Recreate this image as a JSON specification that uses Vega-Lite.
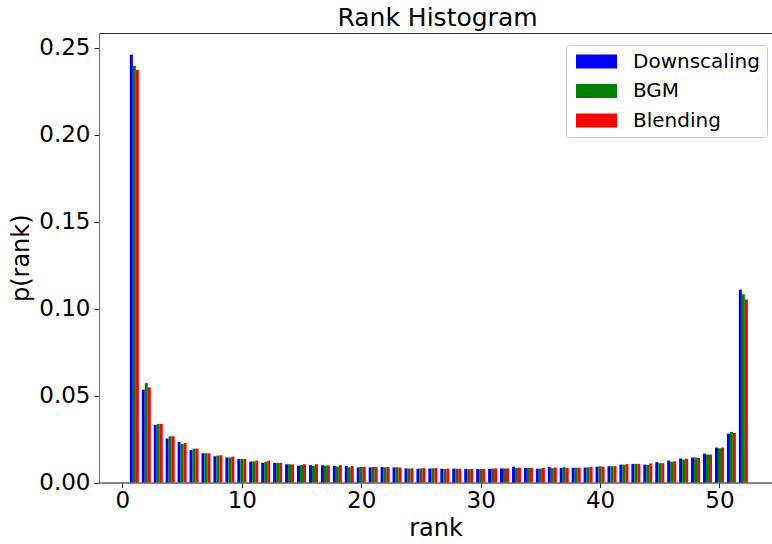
{
  "$schema": "https://vega.github.io/schema/vega-lite/v6.json",
  "width": 673,
  "height": 449.5,
  "autosize": {"type": "none"},
  "padding": {"left": 99, "top": 33, "right": 0, "bottom": 61.5},
  "background": "white",
  "config": {
    "font": "DejaVu Sans",
    "view": {"stroke": "#333", "strokeWidth": 1},
    "axis": {"grid": false, "domainColor": "#777", "tickColor": "#222", "tickSize": 5, "labelColor": "#000", "titleColor": "#000", "labelFontSize": 23, "titleFontSize": 24, "titleFontWeight": "normal", "labelFont": "DejaVu Sans", "titleFont": "DejaVu Sans"}
  },
  "title": {"text": "Rank Histogram", "fontSize": 25, "fontWeight": "normal", "color": "#000", "font": "DejaVu Sans", "anchor": "middle", "offset": 2, "dx": 2},
  "data": {"values": [
    {"rank":1,"series":"Downscaling","p":0.2460},{"rank":1,"series":"BGM","p":0.2397},{"rank":1,"series":"Blending","p":0.2372},
    {"rank":2,"series":"Downscaling","p":0.0534},{"rank":2,"series":"BGM","p":0.0572},{"rank":2,"series":"Blending","p":0.0547},
    {"rank":3,"series":"Downscaling","p":0.0331},{"rank":3,"series":"BGM","p":0.0337},{"rank":3,"series":"Blending","p":0.0337},
    {"rank":4,"series":"Downscaling","p":0.0253},{"rank":4,"series":"BGM","p":0.0266},{"rank":4,"series":"Blending","p":0.0266},
    {"rank":5,"series":"Downscaling","p":0.0232},{"rank":5,"series":"BGM","p":0.0222},{"rank":5,"series":"Blending","p":0.0228},
    {"rank":6,"series":"Downscaling","p":0.0186},{"rank":6,"series":"BGM","p":0.0195},{"rank":6,"series":"Blending","p":0.0195},
    {"rank":7,"series":"Downscaling","p":0.0168},{"rank":7,"series":"BGM","p":0.0168},{"rank":7,"series":"Blending","p":0.0168},
    {"rank":8,"series":"Downscaling","p":0.0151},{"rank":8,"series":"BGM","p":0.0155},{"rank":8,"series":"Blending","p":0.0157},
    {"rank":9,"series":"Downscaling","p":0.0144},{"rank":9,"series":"BGM","p":0.0144},{"rank":9,"series":"Blending","p":0.0149},
    {"rank":10,"series":"Downscaling","p":0.0136},{"rank":10,"series":"BGM","p":0.0136},{"rank":10,"series":"Blending","p":0.0136},
    {"rank":11,"series":"Downscaling","p":0.0120},{"rank":11,"series":"BGM","p":0.0122},{"rank":11,"series":"Blending","p":0.0126},
    {"rank":12,"series":"Downscaling","p":0.0113},{"rank":12,"series":"BGM","p":0.0119},{"rank":12,"series":"Blending","p":0.0126},
    {"rank":13,"series":"Downscaling","p":0.0113},{"rank":13,"series":"BGM","p":0.0113},{"rank":13,"series":"Blending","p":0.0113},
    {"rank":14,"series":"Downscaling","p":0.0105},{"rank":14,"series":"BGM","p":0.0105},{"rank":14,"series":"Blending","p":0.0104},
    {"rank":15,"series":"Downscaling","p":0.0097},{"rank":15,"series":"BGM","p":0.0100},{"rank":15,"series":"Blending","p":0.0105},
    {"rank":16,"series":"Downscaling","p":0.0100},{"rank":16,"series":"BGM","p":0.0096},{"rank":16,"series":"Blending","p":0.0105},
    {"rank":17,"series":"Downscaling","p":0.0099},{"rank":17,"series":"BGM","p":0.0098},{"rank":17,"series":"Blending","p":0.0098},
    {"rank":18,"series":"Downscaling","p":0.0096},{"rank":18,"series":"BGM","p":0.0092},{"rank":18,"series":"Blending","p":0.0099},
    {"rank":19,"series":"Downscaling","p":0.0095},{"rank":19,"series":"BGM","p":0.0087},{"rank":19,"series":"Blending","p":0.0095},
    {"rank":20,"series":"Downscaling","p":0.0087},{"rank":20,"series":"BGM","p":0.0089},{"rank":20,"series":"Blending","p":0.0090},
    {"rank":21,"series":"Downscaling","p":0.0087},{"rank":21,"series":"BGM","p":0.0089},{"rank":21,"series":"Blending","p":0.0089},
    {"rank":22,"series":"Downscaling","p":0.0089},{"rank":22,"series":"BGM","p":0.0087},{"rank":22,"series":"Blending","p":0.0089},
    {"rank":23,"series":"Downscaling","p":0.0087},{"rank":23,"series":"BGM","p":0.0088},{"rank":23,"series":"Blending","p":0.0086},
    {"rank":24,"series":"Downscaling","p":0.0081},{"rank":24,"series":"BGM","p":0.0080},{"rank":24,"series":"Blending","p":0.0081},
    {"rank":25,"series":"Downscaling","p":0.0079},{"rank":25,"series":"BGM","p":0.0081},{"rank":25,"series":"Blending","p":0.0083},
    {"rank":26,"series":"Downscaling","p":0.0080},{"rank":26,"series":"BGM","p":0.0082},{"rank":26,"series":"Blending","p":0.0083},
    {"rank":27,"series":"Downscaling","p":0.0079},{"rank":27,"series":"BGM","p":0.0078},{"rank":27,"series":"Blending","p":0.0080},
    {"rank":28,"series":"Downscaling","p":0.0080},{"rank":28,"series":"BGM","p":0.0079},{"rank":28,"series":"Blending","p":0.0079},
    {"rank":29,"series":"Downscaling","p":0.0078},{"rank":29,"series":"BGM","p":0.0076},{"rank":29,"series":"Blending","p":0.0078},
    {"rank":30,"series":"Downscaling","p":0.0077},{"rank":30,"series":"BGM","p":0.0077},{"rank":30,"series":"Blending","p":0.0078},
    {"rank":31,"series":"Downscaling","p":0.0079},{"rank":31,"series":"BGM","p":0.0080},{"rank":31,"series":"Blending","p":0.0081},
    {"rank":32,"series":"Downscaling","p":0.0081},{"rank":32,"series":"BGM","p":0.0081},{"rank":32,"series":"Blending","p":0.0081},
    {"rank":33,"series":"Downscaling","p":0.0090},{"rank":33,"series":"BGM","p":0.0083},{"rank":33,"series":"Blending","p":0.0085},
    {"rank":34,"series":"Downscaling","p":0.0084},{"rank":34,"series":"BGM","p":0.0084},{"rank":34,"series":"Blending","p":0.0084},
    {"rank":35,"series":"Downscaling","p":0.0080},{"rank":35,"series":"BGM","p":0.0080},{"rank":35,"series":"Blending","p":0.0083},
    {"rank":36,"series":"Downscaling","p":0.0090},{"rank":36,"series":"BGM","p":0.0082},{"rank":36,"series":"Blending","p":0.0086},
    {"rank":37,"series":"Downscaling","p":0.0084},{"rank":37,"series":"BGM","p":0.0088},{"rank":37,"series":"Blending","p":0.0084},
    {"rank":38,"series":"Downscaling","p":0.0085},{"rank":38,"series":"BGM","p":0.0085},{"rank":38,"series":"Blending","p":0.0085},
    {"rank":39,"series":"Downscaling","p":0.0086},{"rank":39,"series":"BGM","p":0.0087},{"rank":39,"series":"Blending","p":0.0090},
    {"rank":40,"series":"Downscaling","p":0.0091},{"rank":40,"series":"BGM","p":0.0093},{"rank":40,"series":"Blending","p":0.0091},
    {"rank":41,"series":"Downscaling","p":0.0094},{"rank":41,"series":"BGM","p":0.0094},{"rank":41,"series":"Blending","p":0.0094},
    {"rank":42,"series":"Downscaling","p":0.0103},{"rank":42,"series":"BGM","p":0.0103},{"rank":42,"series":"Blending","p":0.0106},
    {"rank":43,"series":"Downscaling","p":0.0107},{"rank":43,"series":"BGM","p":0.0107},{"rank":43,"series":"Blending","p":0.0107},
    {"rank":44,"series":"Downscaling","p":0.0103},{"rank":44,"series":"BGM","p":0.0101},{"rank":44,"series":"Blending","p":0.0110},
    {"rank":45,"series":"Downscaling","p":0.0117},{"rank":45,"series":"BGM","p":0.0111},{"rank":45,"series":"Blending","p":0.0111},
    {"rank":46,"series":"Downscaling","p":0.0126},{"rank":46,"series":"BGM","p":0.0119},{"rank":46,"series":"Blending","p":0.0122},
    {"rank":47,"series":"Downscaling","p":0.0138},{"rank":47,"series":"BGM","p":0.0132},{"rank":47,"series":"Blending","p":0.0137},
    {"rank":48,"series":"Downscaling","p":0.0144},{"rank":48,"series":"BGM","p":0.0144},{"rank":48,"series":"Blending","p":0.0142},
    {"rank":49,"series":"Downscaling","p":0.0166},{"rank":49,"series":"BGM","p":0.0161},{"rank":49,"series":"Blending","p":0.0161},
    {"rank":50,"series":"Downscaling","p":0.0201},{"rank":50,"series":"BGM","p":0.0197},{"rank":50,"series":"Blending","p":0.0201},
    {"rank":51,"series":"Downscaling","p":0.0281},{"rank":51,"series":"BGM","p":0.0291},{"rank":51,"series":"Blending","p":0.0285},
    {"rank":52,"series":"Downscaling","p":0.1109},{"rank":52,"series":"BGM","p":0.1082},{"rank":52,"series":"Blending","p":0.1052}
  ]},
  "encoding": {
    "x": {"field": "rank", "type": "quantitative", "scale": {"domain": [-1.96, 54.4], "nice": false, "zero": false, "padding": 0},
          "axis": {"values": [0, 10, 20, 30, 40, 50], "title": "rank", "labelPadding": 2, "titlePadding": 4, "labelFlush": false}},
    "y": {"field": "p", "type": "quantitative", "scale": {"domain": [0, 0.2585], "nice": false, "padding": 0},
          "axis": {"values": [0, 0.05, 0.1, 0.15, 0.2, 0.25], "format": ".2f", "title": "p(rank)", "labelPadding": 4, "titlePadding": 5, "labelFlush": false}},
    "color": {"field": "series", "type": "nominal",
              "scale": {"domain": ["Downscaling", "BGM", "Blending"], "range": ["#0000ff", "#008000", "#ff0000"]},
              "legend": {"title": null, "orient": "none", "legendX": 467, "legendY": 12, "fillColor": "white", "strokeColor": "#cccccc", "cornerRadius": 3, "padding": 6.5,
                         "symbolType": "M-2.93,-1H2.93V1H-2.93Z", "symbolSize": 196, "symbolOffset": 14, "symbolStrokeWidth": 0, "symbolOpacity": 1,
                         "labelOffset": 26.5, "labelFontSize": 20, "labelFont": "DejaVu Sans", "labelColor": "#000", "rowPadding": 9.5, "labelLimit": 300}}
  },
  "layer": [
    {"transform": [{"filter": "datum.series === 'Downscaling'"}], "mark": {"type": "bar", "width": 3, "xOffset": -3}},
    {"transform": [{"filter": "datum.series === 'BGM'"}], "mark": {"type": "bar", "width": 3, "xOffset": 0}},
    {"transform": [{"filter": "datum.series === 'Blending'"}], "mark": {"type": "bar", "width": 3, "xOffset": 3}}
  ]
}
